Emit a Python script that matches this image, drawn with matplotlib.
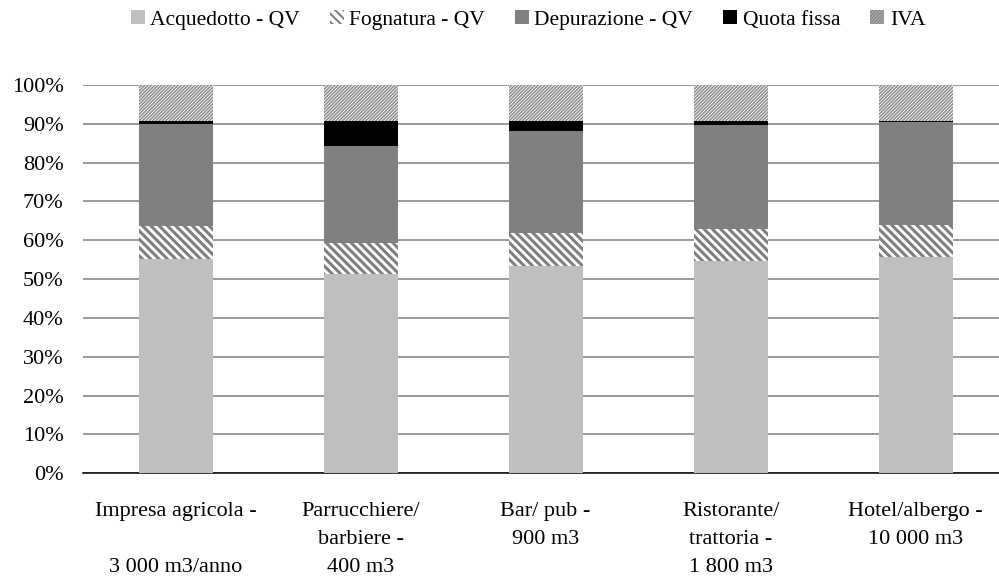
import matplotlib
matplotlib.use("Agg")
import matplotlib.pyplot as plt
import numpy as np

plt.rcParams['font.family'] = ['Liberation Serif', 'DejaVu Serif']
plt.rcParams['hatch.linewidth'] = 2.0

categorie = ["Impresa agricola -\n\n3 000 m3/anno",
             "Parrucchiere/\nbarbiere -\n400 m3",
             "Bar/ pub -\n900 m3",
             "Ristorante/\ntrattoria -\n1 800 m3",
             "Hotel/albergo -\n10 000 m3"]

# quote percentuali per voce di costo
acquedotto = [55.3, 51.2, 53.4, 54.7, 55.7]
fognatura = [8.3, 8.2, 8.5, 8.3, 8.3]
depurazione = [26.4, 25.0, 26.3, 26.6, 26.4]
quota_fissa = [0.8, 6.4, 2.6, 1.2, 0.2]
iva = [9.2, 9.2, 9.2, 9.2, 9.4]

serie = [
    ("Acquedotto - QV", acquedotto, dict(facecolor="#bfbfbf", edgecolor="#bfbfbf", hatch=None), None),
    ("Fognatura - QV", fognatura, dict(facecolor="white", edgecolor="#808080", hatch="\\\\\\\\"), 2.2),
    ("Depurazione - QV", depurazione, dict(facecolor="#808080", edgecolor="#808080", hatch=None), None),
    ("Quota fissa", quota_fissa, dict(facecolor="black", edgecolor="black", hatch=None), None),
    ("IVA", iva, dict(facecolor="white", edgecolor="#8c8c8c", hatch="//////////"), 1.1),
]

fig = plt.figure(figsize=(9.99, 5.79), dpi=100)
ax = fig.add_axes([0.0831, 0.1826, 0.926, 0.6706])

x = np.arange(len(categorie))
base = np.zeros(len(categorie))
handles = []
for nome, valori, stile, hlw in serie:
    b = ax.bar(x, valori, width=0.4, bottom=base, linewidth=0, label=nome, zorder=3, **stile)
    if hlw is not None:
        for p in b.patches:
            if hasattr(p, "set_hatch_linewidth"):
                p.set_hatch_linewidth(hlw)
    handles.append(b)
    base = base + np.array(valori)

ax.set_xlim(-0.5, 4.5)
ax.set_ylim(0, 100)
ax.set_yticks(np.arange(0, 101, 10))
ax.set_yticklabels([f"{v}%" for v in range(0, 101, 10)])
ax.yaxis.grid(True, color="#7f7f7f", linewidth=1.1, zorder=0)
ax.set_axisbelow(True)
for s in ["top", "right", "left"]:
    ax.spines[s].set_visible(False)
ax.spines["bottom"].set_color("black")
ax.spines["bottom"].set_linewidth(1.1)
ax.set_xticks(x)
ax.set_xticklabels(categorie, linespacing=1.62)
ax.tick_params(axis="y", length=0, pad=14, labelsize=16)
ax.tick_params(axis="x", length=0, pad=21, labelsize=16)

leg = fig.legend(handles=handles, loc="center", bbox_to_anchor=(0.5285, 0.9655), ncol=5,
                 frameon=False, fontsize=15.5, handlelength=0.65, handleheight=0.65,
                 handletextpad=0.25, columnspacing=1.4, borderpad=0)
for h in leg.legend_handles:
    if h.get_hatch() and hasattr(h, "set_hatch_linewidth"):
        h.set_hatch_linewidth(1.5)

fig.savefig("out.png", dpi=100)
